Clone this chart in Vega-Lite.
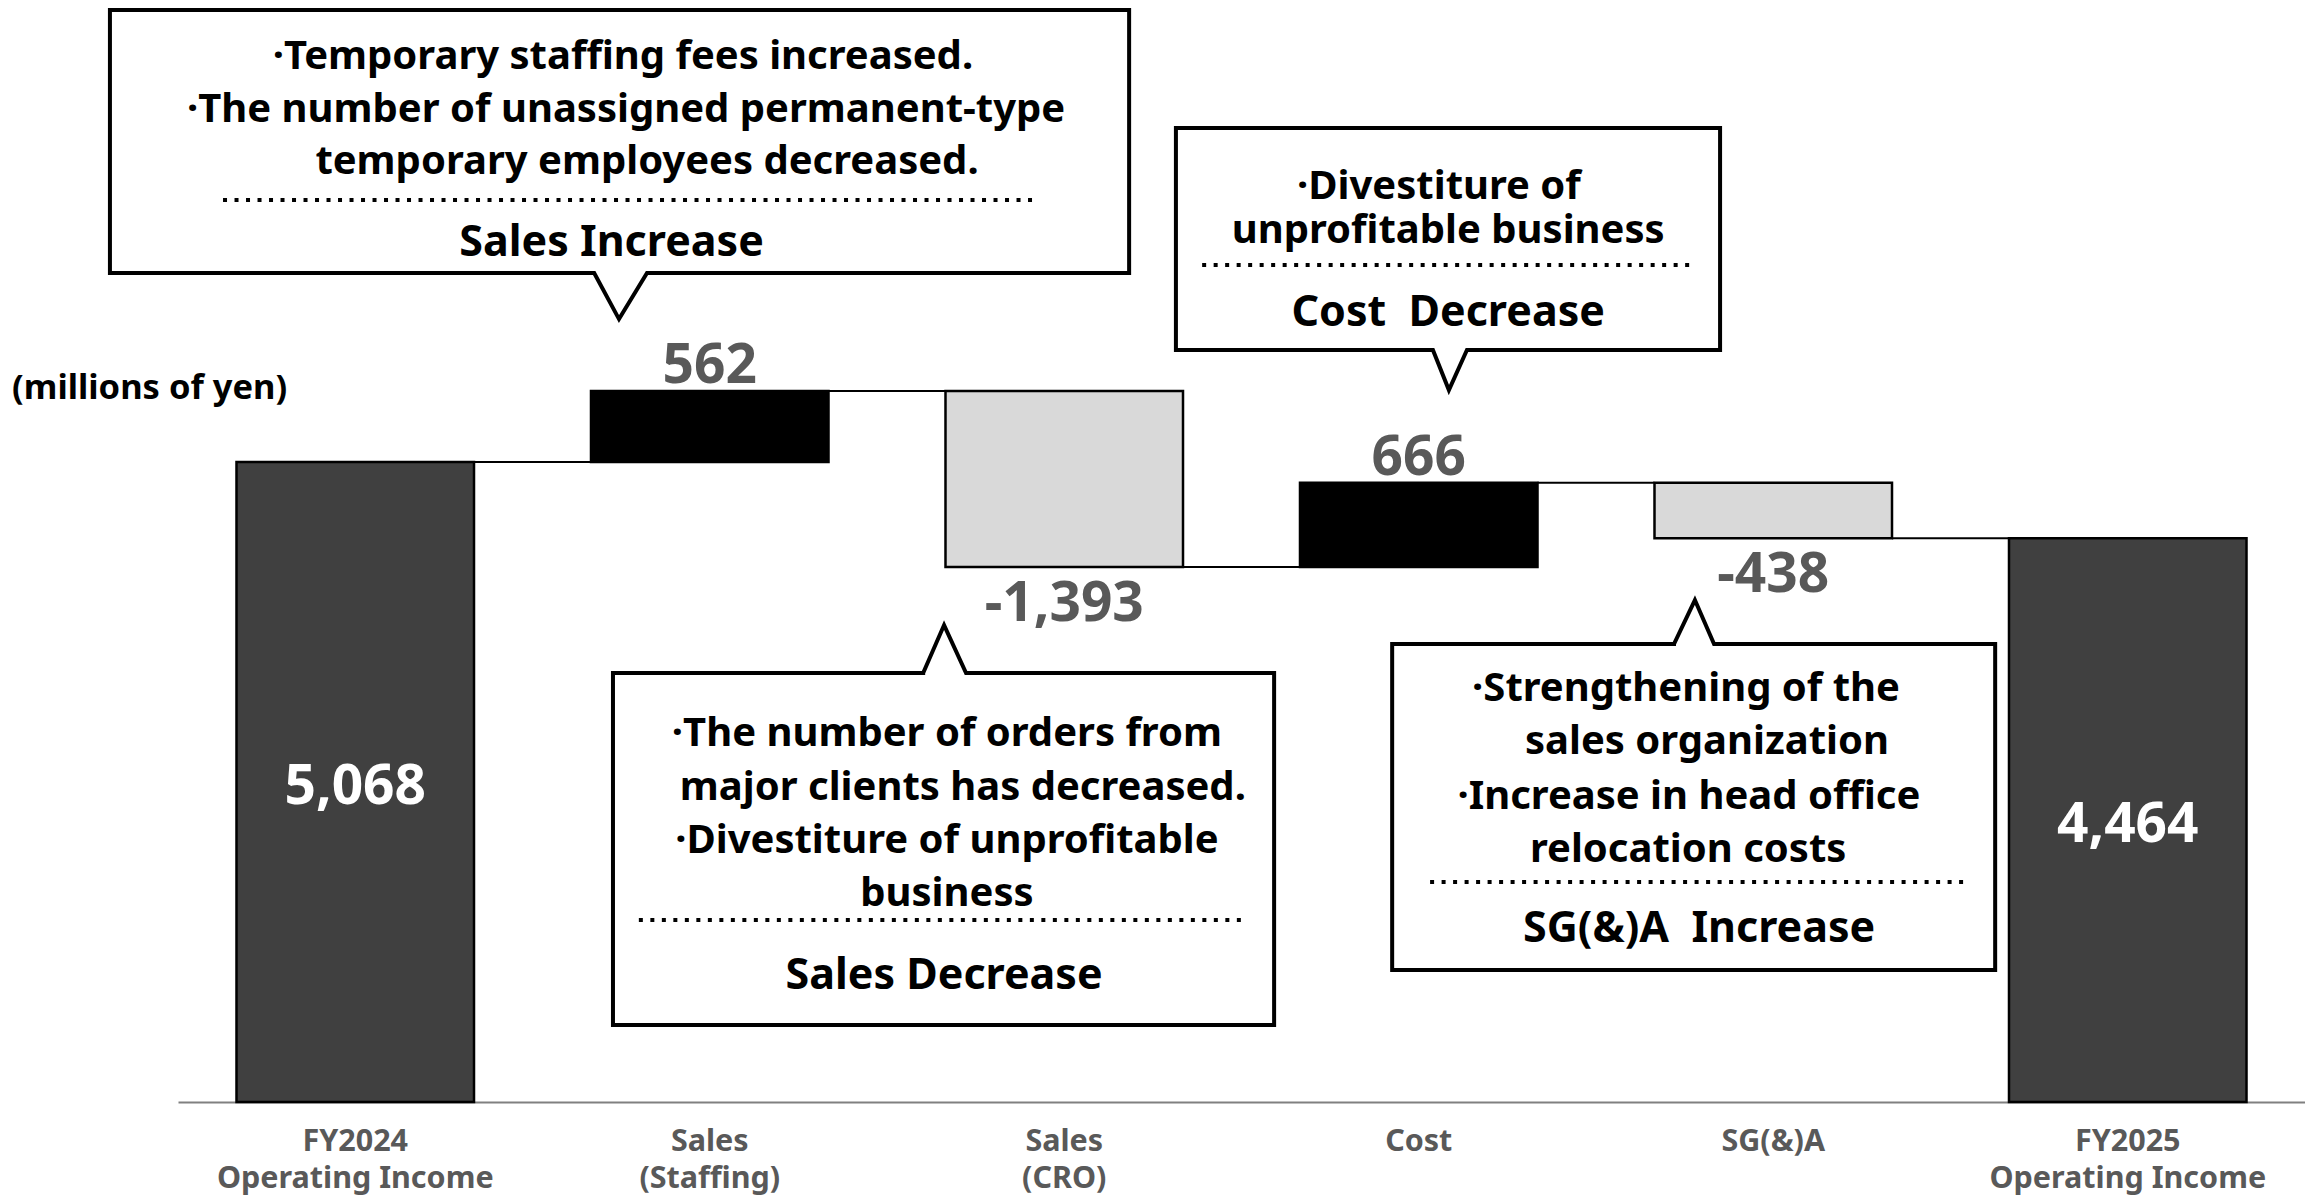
{
  "$schema": "https://vega.github.io/schema/vega-lite/v6.json",
  "usermeta": {"embedOptions": {"actions": false}},
  "width": 2127,
  "height": 1102,
  "autosize": {"type": "none"},
  "padding": {"left": 178, "top": 0, "right": 0, "bottom": 94},
  "background": "white",
  "config": {"view": {"stroke": null}},
  "datasets": {
    "bars": [
      {"cat": "FY2024|Operating Income", "start": 0, "end": 5068, "kind": "total", "label": "5,068"},
      {"cat": "Sales|(Staffing)", "start": 5068, "end": 5630, "kind": "up", "label": "562"},
      {"cat": "Sales|(CRO)", "start": 5630, "end": 4237, "kind": "down", "label": "-1,393"},
      {"cat": "Cost", "start": 4237, "end": 4903, "kind": "up", "label": "666"},
      {"cat": "SG(&)A", "start": 4903, "end": 4465, "kind": "down", "label": "-438"},
      {"cat": "FY2025|Operating Income", "start": 0, "end": 4464, "kind": "total", "label": "4,464"}
    ],
    "links": [
      {"x1": 0.335, "x2": 0.665, "y": 5068},
      {"x1": 1.335, "x2": 1.665, "y": 5630},
      {"x1": 2.335, "x2": 2.665, "y": 4237},
      {"x1": 3.335, "x2": 3.665, "y": 4903},
      {"x1": 4.335, "x2": 4.665, "y": 4465}
    ],
    "shapes": [
      {"id": "A", "k": 0, "x": -0.692, "y": 8648},
      {"id": "A", "k": 1, "x": 2.183, "y": 8648},
      {"id": "A", "k": 2, "x": 2.183, "y": 6565},
      {"id": "A", "k": 3, "x": 0.823, "y": 6565},
      {"id": "A", "k": 4, "x": 0.744, "y": 6200},
      {"id": "A", "k": 5, "x": 0.674, "y": 6565},
      {"id": "A", "k": 6, "x": -0.692, "y": 6565},
      {"id": "A", "k": 7, "x": -0.692, "y": 8648},
      {"id": "A", "k": 8, "x": 2.183, "y": 8648},
      {"id": "B", "k": 0, "x": 2.315, "y": 7713},
      {"id": "B", "k": 1, "x": 3.850, "y": 7713},
      {"id": "B", "k": 2, "x": 3.850, "y": 5955},
      {"id": "B", "k": 3, "x": 3.136, "y": 5955},
      {"id": "B", "k": 4, "x": 3.085, "y": 5638},
      {"id": "B", "k": 5, "x": 3.040, "y": 5955},
      {"id": "B", "k": 6, "x": 2.315, "y": 5955},
      {"id": "B", "k": 7, "x": 2.315, "y": 7713},
      {"id": "B", "k": 8, "x": 3.850, "y": 7713},
      {"id": "C", "k": 0, "x": 0.727, "y": 3397},
      {"id": "C", "k": 1, "x": 1.602, "y": 3397},
      {"id": "C", "k": 2, "x": 1.661, "y": 3777},
      {"id": "C", "k": 3, "x": 1.723, "y": 3397},
      {"id": "C", "k": 4, "x": 2.592, "y": 3397},
      {"id": "C", "k": 5, "x": 2.592, "y": 610},
      {"id": "C", "k": 6, "x": 0.727, "y": 610},
      {"id": "C", "k": 7, "x": 0.727, "y": 3397},
      {"id": "C", "k": 8, "x": 1.602, "y": 3397},
      {"id": "D", "k": 0, "x": 2.925, "y": 3627},
      {"id": "D", "k": 1, "x": 3.720, "y": 3627},
      {"id": "D", "k": 2, "x": 3.779, "y": 3975},
      {"id": "D", "k": 3, "x": 3.833, "y": 3627},
      {"id": "D", "k": 4, "x": 4.626, "y": 3627},
      {"id": "D", "k": 5, "x": 4.626, "y": 1045},
      {"id": "D", "k": 6, "x": 2.925, "y": 1045},
      {"id": "D", "k": 7, "x": 2.925, "y": 3627},
      {"id": "D", "k": 8, "x": 3.720, "y": 3627}
    ],
    "dots": [
      {"x1": -0.373, "x2": 1.912, "y": 7143},
      {"x1": 2.389, "x2": 3.774, "y": 6628},
      {"x1": 0.800, "x2": 2.507, "y": 1441},
      {"x1": 3.032, "x2": 4.555, "y": 1742}
    ],
    "notes": [
      {"x": 0.755, "y": 8299, "text": "·Temporary staffing fees increased.", "kind": "item"},
      {"x": 0.764, "y": 7879, "text": "·The number of unassigned permanent-type", "kind": "item"},
      {"x": 0.823, "y": 7467, "text": "temporary employees decreased.", "kind": "item"},
      {"x": 0.723, "y": 6826, "text": "Sales Increase", "kind": "head"},
      {"x": 3.057, "y": 7270, "text": "·Divestiture of", "kind": "item"},
      {"x": 3.083, "y": 6921, "text": "unprofitable business", "kind": "item"},
      {"x": 3.083, "y": 6272, "text": "Cost\u00a0 Decrease", "kind": "head"},
      {"x": 1.669, "y": 2938, "text": "·The number of orders from", "kind": "item"},
      {"x": 1.714, "y": 2510, "text": "major clients has decreased.", "kind": "item"},
      {"x": 1.669, "y": 2091, "text": "·Divestiture of unprofitable", "kind": "item"},
      {"x": 1.669, "y": 1671, "text": "business", "kind": "item"},
      {"x": 1.661, "y": 1022, "text": "Sales Decrease", "kind": "head"},
      {"x": 3.754, "y": 3294, "text": "·Strengthening of the", "kind": "item"},
      {"x": 3.813, "y": 2875, "text": "sales organization", "kind": "item"},
      {"x": 3.762, "y": 2439, "text": "·Increase in head office", "kind": "item"},
      {"x": 3.760, "y": 2019, "text": "relocation costs", "kind": "item"},
      {"x": 3.791, "y": 1394, "text": "SG(&)A\u00a0 Increase", "kind": "head"}
    ],
    "unit": [
      {"x": -0.968, "y": 5662, "text": "(millions of yen)"}
    ]
  },
  "resolve": {"scale": {"x": "independent", "y": "independent", "size": "independent", "color": "independent"}},
  "layer": [
    {
      "data": {"name": "links"},
      "mark": {"type": "rule", "color": "black", "strokeWidth": 2},
      "encoding": {
        "x": {"field": "x1", "type": "quantitative", "scale": {"domain": [-0.5, 5.5], "nice": false, "zero": false}, "axis": null},
        "x2": {"field": "x2"},
        "y": {"field": "y", "type": "quantitative", "scale": {"domain": [0, 8727], "nice": false}, "axis": null}
      }
    },
    {
      "data": {"name": "bars"},
      "mark": {"type": "bar", "stroke": "black", "strokeWidth": 2.5},
      "encoding": {
        "x": {
          "field": "cat", "type": "nominal", "sort": null,
          "scale": {"paddingInner": 0.33, "paddingOuter": 0.165},
          "axis": {
            "title": null, "labelExpr": "split(datum.label, '|')",
            "labelFont": "Noto Sans", "labelFontWeight": "bold", "labelFontSize": 30.5,
            "labelColor": "#595959", "labelLineHeight": 37, "labelPadding": 24,
            "labelLimit": 0, "labelAngle": 0, "ticks": false, "grid": false,
            "domainColor": "#808080", "domainWidth": 2
          }
        },
        "y": {"field": "start", "type": "quantitative", "scale": {"domain": [0, 8727], "nice": false}, "axis": null},
        "y2": {"field": "end"},
        "color": {"field": "kind", "type": "nominal", "scale": {"domain": ["total", "up", "down"], "range": ["#404040", "#000000", "#d9d9d9"]}, "legend": null}
      }
    },
    {
      "data": {"name": "bars"},
      "transform": [{"filter": "datum.kind == 'up'"}],
      "mark": {"type": "text", "font": "Noto Sans", "fontWeight": "bold", "fontSize": 55, "color": "#595959", "baseline": "middle", "dy": -25},
      "encoding": {
        "x": {"field": "cat", "type": "nominal", "sort": null, "scale": {"domain": ["FY2024|Operating Income", "Sales|(Staffing)", "Sales|(CRO)", "Cost", "SG(&)A", "FY2025|Operating Income"], "paddingInner": 0.33, "paddingOuter": 0.165}, "axis": null},
        "y": {"field": "end", "type": "quantitative", "scale": {"domain": [0, 8727], "nice": false}, "axis": null},
        "text": {"field": "label"}
      }
    },
    {
      "data": {"name": "bars"},
      "transform": [{"filter": "datum.kind == 'down'"}],
      "mark": {"type": "text", "font": "Noto Sans", "fontWeight": "bold", "fontSize": 55, "color": "#595959", "baseline": "middle", "dy": 37},
      "encoding": {
        "x": {"field": "cat", "type": "nominal", "sort": null, "scale": {"domain": ["FY2024|Operating Income", "Sales|(Staffing)", "Sales|(CRO)", "Cost", "SG(&)A", "FY2025|Operating Income"], "paddingInner": 0.33, "paddingOuter": 0.165}, "axis": null},
        "y": {"field": "end", "type": "quantitative", "scale": {"domain": [0, 8727], "nice": false}, "axis": null},
        "text": {"field": "label"}
      }
    },
    {
      "data": {"name": "bars"},
      "transform": [{"filter": "datum.kind == 'total'"}],
      "mark": {"type": "text", "font": "Noto Sans", "fontWeight": "bold", "fontSize": 55, "color": "white", "baseline": "middle", "dy": 5},
      "encoding": {
        "x": {"field": "cat", "type": "nominal", "sort": null, "scale": {"domain": ["FY2024|Operating Income", "Sales|(Staffing)", "Sales|(CRO)", "Cost", "SG(&)A", "FY2025|Operating Income"], "paddingInner": 0.33, "paddingOuter": 0.165}, "axis": null},
        "y": {"field": "end", "type": "quantitative", "scale": {"domain": [0, 17454], "nice": false}, "axis": null},
        "text": {"field": "label"}
      }
    },
    {
      "data": {"name": "shapes"},
      "mark": {"type": "line", "color": "black", "strokeWidth": 4, "strokeJoin": "miter", "strokeCap": "square"},
      "encoding": {
        "x": {"field": "x", "type": "quantitative", "scale": {"domain": [-0.5, 5.5], "nice": false, "zero": false}, "axis": null},
        "y": {"field": "y", "type": "quantitative", "scale": {"domain": [0, 8727], "nice": false}, "axis": null},
        "detail": {"field": "id"},
        "order": {"field": "k", "type": "quantitative"}
      }
    },
    {
      "data": {"name": "dots"},
      "mark": {"type": "rule", "color": "black", "strokeWidth": 4, "strokeDash": [4, 7.5]},
      "encoding": {
        "x": {"field": "x1", "type": "quantitative", "scale": {"domain": [-0.5, 5.5], "nice": false, "zero": false}, "axis": null},
        "x2": {"field": "x2"},
        "y": {"field": "y", "type": "quantitative", "scale": {"domain": [0, 8727], "nice": false}, "axis": null}
      }
    },
    {
      "data": {"name": "notes"},
      "mark": {"type": "text", "font": "Noto Sans", "fontWeight": "bold", "color": "black", "baseline": "middle", "align": "center", "dy": 3},
      "encoding": {
        "x": {"field": "x", "type": "quantitative", "scale": {"domain": [-0.5, 5.5], "nice": false, "zero": false}, "axis": null},
        "y": {"field": "y", "type": "quantitative", "scale": {"domain": [0, 8727], "nice": false}, "axis": null},
        "text": {"field": "text"},
        "size": {"field": "kind", "type": "nominal", "scale": {"domain": ["item", "head"], "range": [40, 43]}, "legend": null}
      }
    },
    {
      "data": {"name": "unit"},
      "mark": {"type": "text", "font": "Noto Sans", "fontWeight": "bold", "fontSize": 34.5, "color": "black", "baseline": "middle", "align": "left", "dy": 2},
      "encoding": {
        "x": {"field": "x", "type": "quantitative", "scale": {"domain": [-0.5, 5.5], "nice": false, "zero": false}, "axis": null},
        "y": {"field": "y", "type": "quantitative", "scale": {"domain": [0, 8727], "nice": false}, "axis": null},
        "text": {"field": "text"}
      }
    }
  ]
}
